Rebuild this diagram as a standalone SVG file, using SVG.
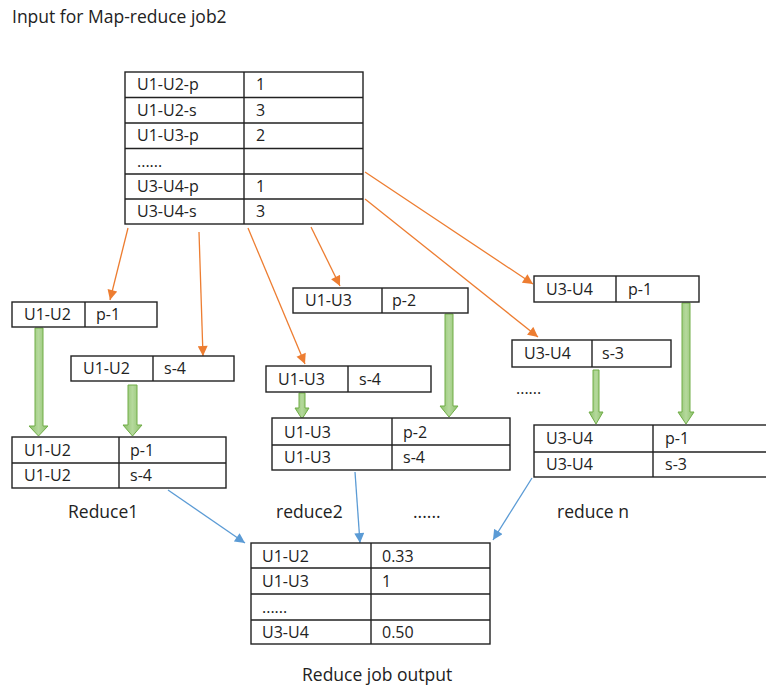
<svg xmlns="http://www.w3.org/2000/svg" width="766" height="688" viewBox="0 0 766 688">
<defs>
<style>
text{font-family:"Open Sans","Liberation Sans",sans-serif;font-size:16px;fill:#222}
.lbl{font-size:17.5px}
.cell{fill:#fff;stroke:#222;stroke-width:1.4}
.ln{fill:none;stroke:#222;stroke-width:1.4}
.or{stroke:#ED7D31;stroke-width:1.3;fill:none;marker-end:url(#ao)}
.bl{stroke:#5B9BD5;stroke-width:1.3;fill:none;marker-end:url(#ab)}
.gr{fill:url(#gg);stroke:#70AD47;stroke-width:1}
</style>
<marker id="ao" viewBox="0 0 10 10" refX="10" refY="5" markerWidth="11" markerHeight="10" markerUnits="userSpaceOnUse" orient="auto"><path d="M0,0L10,5L0,10z" fill="#ED7D31"/></marker>
<marker id="ab" viewBox="0 0 10 10" refX="10" refY="5" markerWidth="11" markerHeight="10" markerUnits="userSpaceOnUse" orient="auto"><path d="M0,0L10,5L0,10z" fill="#5B9BD5"/></marker>
<linearGradient id="gg" x1="0" y1="0" x2="1" y2="0"><stop offset="0" stop-color="#8CC06A"/><stop offset="0.5" stop-color="#B5D99C"/><stop offset="1" stop-color="#8CC06A"/></linearGradient>
</defs>
<rect width="766" height="688" fill="#fff"/>
<text x="12" y="23" class="lbl">Input for Map-reduce job2</text>

<g id="connectors">
<line class="or" x1="128" y1="228" x2="110" y2="300"/>
<line class="or" x1="199" y1="232" x2="203" y2="356"/>
<line class="or" x1="248" y1="228" x2="305" y2="364"/>
<line class="or" x1="311" y1="227" x2="340" y2="286"/>
<line class="or" x1="365" y1="172" x2="533" y2="284"/>
<line class="or" x1="365" y1="199" x2="538" y2="337"/>
<path class="gr" d="M35,328H43V426H48L38.5,436L29,426H35Z"/>
<path class="gr" d="M128,385H137V425H142L132.5,436L123,425H128Z"/>
<path class="gr" d="M299,393H305V408H309L302,419L295,408H299Z"/>
<path class="gr" d="M445,314H453V406H458L449,417L440,406H445Z"/>
<path class="gr" d="M593,370H599V412H603L596,424L589,412H593Z"/>
<path class="gr" d="M682,303H690V412H694L686,424L678,412H682Z"/>
<line class="bl" x1="168" y1="490" x2="245" y2="543"/>
<line class="bl" x1="355" y1="472" x2="360" y2="543"/>
<line class="bl" x1="532" y1="478" x2="493" y2="540"/>
</g>

<g id="input-table">
<rect class="cell" x="125" y="72" width="238" height="152"/>
<path class="ln" d="M125,97.5H363M125,123H363M125,148.5H363M125,174H363M125,199H363M244,72V224"/>
<text x="137" y="90">U1-U2-p</text><text x="256" y="90">1</text>
<text x="137" y="116">U1-U2-s</text><text x="256" y="116">3</text>
<text x="137" y="141">U1-U3-p</text><text x="256" y="141">2</text>
<text x="137" y="167">......</text>
<text x="137" y="192">U3-U4-p</text><text x="256" y="192">1</text>
<text x="137" y="217">U3-U4-s</text><text x="256" y="217">3</text>
</g>

<g id="map-u1u2-p">
<rect class="cell" x="12" y="302" width="145" height="25"/>
<path class="ln" d="M85,302V327"/>
<text x="24" y="320">U1-U2</text><text x="96" y="320">p-1</text>
</g>
<g id="map-u1u2-s">
<rect class="cell" x="71" y="356" width="163" height="25"/>
<path class="ln" d="M153,356V381"/>
<text x="83" y="374">U1-U2</text><text x="164" y="374">s-4</text>
</g>
<g id="map-u1u3-p">
<rect class="cell" x="293" y="288" width="175" height="25"/>
<path class="ln" d="M382,288V313"/>
<text x="305" y="306">U1-U3</text><text x="392" y="306">p-2</text>
</g>
<g id="map-u1u3-s">
<rect class="cell" x="266" y="366" width="165" height="26"/>
<path class="ln" d="M348,366V392"/>
<text x="278" y="385">U1-U3</text><text x="359" y="385">s-4</text>
</g>
<g id="map-u3u4-p">
<rect class="cell" x="534" y="276" width="165" height="26"/>
<path class="ln" d="M616,276V302"/>
<text x="546" y="295">U3-U4</text><text x="628" y="295">p-1</text>
</g>
<g id="map-u3u4-s">
<rect class="cell" x="512" y="340" width="159" height="27"/>
<path class="ln" d="M592,340V367"/>
<text x="524" y="359">U3-U4</text><text x="602" y="359">s-3</text>
</g>
<text x="516" y="394">......</text>

<g id="reduce1">
<rect class="cell" x="12" y="437" width="214" height="51"/>
<path class="ln" d="M12,463H226M119,437V488"/>
<text x="24" y="456">U1-U2</text><text x="130" y="456">p-1</text>
<text x="24" y="481">U1-U2</text><text x="130" y="481">s-4</text>
</g>
<text x="68" y="518" class="lbl">Reduce1</text>

<g id="reduce2">
<rect class="cell" x="272" y="418" width="238" height="52"/>
<path class="ln" d="M272,445H510M392,418V470"/>
<text x="284" y="438">U1-U3</text><text x="403" y="438">p-2</text>
<text x="284" y="463">U1-U3</text><text x="403" y="463">s-4</text>
</g>
<text x="276" y="518" class="lbl">reduce2</text>
<text x="413" y="518" class="lbl">......</text>

<g id="reduce-n">
<rect class="cell" x="534" y="425" width="240" height="52"/>
<path class="ln" d="M534,452H774M653,425V477"/>
<text x="546" y="444">U3-U4</text><text x="665" y="444">p-1</text>
<text x="546" y="470">U3-U4</text><text x="665" y="470">s-3</text>
</g>
<text x="557" y="518" class="lbl">reduce n</text>

<g id="output-table">
<rect class="cell" x="251" y="543" width="239" height="101"/>
<path class="ln" d="M251,568H490M251,594H490M251,620H490M371,543V644"/>
<text x="262" y="562">U1-U2</text><text x="382" y="562">0.33</text>
<text x="262" y="587">U1-U3</text><text x="382" y="587">1</text>
<text x="262" y="613">......</text>
<text x="262" y="638">U3-U4</text><text x="382" y="638">0.50</text>
</g>
<text x="302" y="681" class="lbl">Reduce job output</text>
</svg>
